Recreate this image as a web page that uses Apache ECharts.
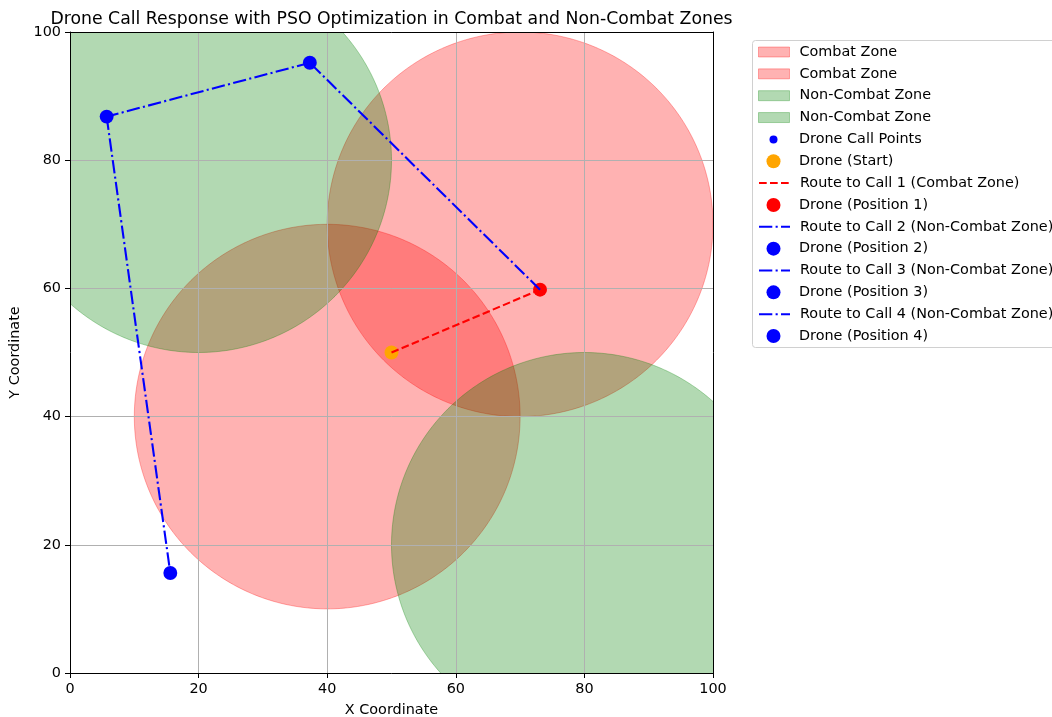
<!DOCTYPE html>
<html>
<head>
<meta charset="utf-8">
<script src="https://cdn.jsdelivr.net/npm/echarts@6/dist/echarts.min.js"></script>
<style>
html,body{margin:0;padding:0;background:#fff;}
#chart{width:1052px;height:717px;}
</style>
</head>
<body>
<div id="chart"></div>
<script>
// ---- data ----
const combatZones = [[70, 70, 30], [40, 40, 30]];          // [cx, cy, radius]
const nonCombatZones = [[20, 80, 30], [80, 20, 30]];       // [cx, cy, radius]
const droneStart = [50, 50];
const callPoints = [[73.1, 59.8], [37.3, 95.2], [5.7, 86.8], [15.6, 15.6]];
const axisMin = 0, axisMax = 100, axisInterval = 20;

// ---- styling ----
const FONT = 'DejaVu Sans';
const FS = 14.4;
const RED_FILL = 'rgba(255,0,0,0.3)';
const GREEN_FILL = 'rgba(0,128,0,0.3)';
const BLUE = '#0000ff';
const DASH = [7.7, 3.3];
const DASHDOT = [13.3, 3.3, 2.1, 3.3];

function zoneSeries(name, zone, fill, z) {
  return {
    type: 'custom', name: name, z: z, clip: true, silent: true,
    data: [zone],
    encode: { x: 0, y: 1 },
    itemStyle: { color: fill },
    renderItem: function (params, api) {
      const cx = api.value(0), cy = api.value(1), r = api.value(2);
      const pts = [];
      for (let a = 0; a < 360; a += 1) {
        const t = a * Math.PI / 180;
        pts.push(api.coord([cx + r * Math.cos(t), cy + r * Math.sin(t)]));
      }
      const cs = params.coordSys;
      return {
        type: 'polygon',
        shape: { points: pts },
        style: { fill: fill, stroke: fill, lineWidth: 1 },
        clipPath: { type: 'rect', shape: { x: cs.x, y: cs.y, width: cs.width, height: cs.height } }
      };
    }
  };
}
function pointSeries(name, pts, color, size, z) {
  return { type: 'scatter', name: name, z: z, data: pts, symbol: 'circle', symbolSize: size,
    itemStyle: { color: color, opacity: 1 }, silent: true };
}
function routeSeries(name, a, b, color, dash, z) {
  return { type: 'line', name: name, z: z, data: [a, b], symbol: 'none', silent: true,
    lineStyle: { color: color, width: 2.1, type: dash }, itemStyle: { color: color } };
}

const series = [
  zoneSeries('Combat Zone', combatZones[0], RED_FILL, 1),
  zoneSeries('Combat Zone', combatZones[1], RED_FILL, 1),
  zoneSeries('Non-Combat Zone', nonCombatZones[0], GREEN_FILL, 1),
  zoneSeries('Non-Combat Zone', nonCombatZones[1], GREEN_FILL, 1),
  pointSeries('Drone Call Points', callPoints, BLUE, 8.3, 4),
  pointSeries('Drone (Start)', [droneStart], '#ffa500', 13.9, 5),
  routeSeries('Route to Call 1 (Combat Zone)', droneStart, callPoints[0], '#ff0000', DASH, 6),
  pointSeries('Drone (Position 1)', [callPoints[0]], '#ff0000', 13.9, 7),
  routeSeries('Route to Call 2 (Non-Combat Zone)', callPoints[0], callPoints[1], BLUE, DASHDOT, 8),
  pointSeries('Drone (Position 2)', [callPoints[1]], BLUE, 13.9, 9),
  routeSeries('Route to Call 3 (Non-Combat Zone)', callPoints[1], callPoints[2], BLUE, DASHDOT, 10),
  pointSeries('Drone (Position 3)', [callPoints[2]], BLUE, 13.9, 11),
  routeSeries('Route to Call 4 (Non-Combat Zone)', callPoints[2], callPoints[3], BLUE, DASHDOT, 12),
  pointSeries('Drone (Position 4)', [callPoints[3]], BLUE, 13.9, 13)
];

// legend: one component per entry (matplotlib-like handles)
const legendEntries = [
  { name: 'Combat Zone', kind: 'patch', fill: RED_FILL },
  { name: 'Combat Zone', kind: 'patch', fill: RED_FILL },
  { name: 'Non-Combat Zone', kind: 'patch', fill: GREEN_FILL },
  { name: 'Non-Combat Zone', kind: 'patch', fill: GREEN_FILL },
  { name: 'Drone Call Points', kind: 'marker', size: 8 },
  { name: 'Drone (Start)', kind: 'marker', size: 14 },
  { name: 'Route to Call 1 (Combat Zone)', kind: 'line' },
  { name: 'Drone (Position 1)', kind: 'marker', size: 14 },
  { name: 'Route to Call 2 (Non-Combat Zone)', kind: 'line' },
  { name: 'Drone (Position 2)', kind: 'marker', size: 14 },
  { name: 'Route to Call 3 (Non-Combat Zone)', kind: 'line' },
  { name: 'Drone (Position 3)', kind: 'marker', size: 14 },
  { name: 'Route to Call 4 (Non-Combat Zone)', kind: 'line' },
  { name: 'Drone (Position 4)', kind: 'marker', size: 14 }
];
const HANDLE_W = 31, HANDLE_X = 758;
const legends = legendEntries.map(function (e, i) {
  const cy = 52 + i * 21.85;
  const ih = e.kind === 'patch' ? 10 : (e.kind === 'marker' ? e.size : 14);
  const item = { name: e.name };
  let left = HANDLE_X;
  if (e.kind === 'patch') { item.icon = 'rect'; item.itemStyle = { color: e.fill, borderColor: e.fill, borderWidth: 1 }; }
  if (e.kind === 'marker') { item.icon = 'circle'; left = HANDLE_X + (HANDLE_W - e.size) / 2; }
  if (e.kind === 'line') { item.itemStyle = { opacity: 0 }; }
  return {
    data: [item], orient: 'vertical', left: left, top: cy - 8.5, padding: 0,
    itemWidth: HANDLE_W, itemHeight: ih, selectedMode: false,
    textStyle: { fontFamily: FONT, fontSize: FS, color: '#000', lineHeight: 17, padding: [0, 0, 0, 5] }
  };
});

const axisCommon = {
  type: 'value', min: axisMin, max: axisMax, interval: axisInterval, z: 2,
  axisLine: { show: true, onZero: false, lineStyle: { color: '#000', width: 1 } },
  axisTick: { show: true, inside: false, length: 5, lineStyle: { color: '#000', width: 1 } },
  axisLabel: { color: '#000', fontFamily: FONT, fontSize: FS, margin: 9 },
  splitLine: { show: true, lineStyle: { color: '#b0b0b0', width: 1 } },
  nameLocation: 'middle',
  nameTextStyle: { color: '#000', fontFamily: FONT, fontSize: FS }
};
const spine = {
  type: 'value', min: axisMin, max: axisMax, z: 20,
  axisLine: { show: true, onZero: false, lineStyle: { color: '#000', width: 1 } },
  axisTick: { show: false }, axisLabel: { show: false }, splitLine: { show: false }
};

const chart = echarts.init(document.getElementById('chart'), null, { renderer: 'canvas' });
chart.setOption({
  animation: false,
  backgroundColor: '#fff',
  title: {
    text: 'Drone Call Response with PSO Optimization in Combat and Non-Combat Zones',
    left: 386.5, textAlign: 'center', top: 6,
    textStyle: { fontFamily: FONT, fontSize: 17.3, fontWeight: 'normal', color: '#000' }
  },
  grid: { left: 70, right: 339, top: 32, bottom: 44, containLabel: false, outerBoundsMode: 'none' },
  xAxis: [
    Object.assign({}, axisCommon, { position: 'bottom', name: 'X Coordinate', nameGap: 30 }),
    Object.assign({}, spine, { position: 'top' })
  ],
  yAxis: [
    Object.assign({}, axisCommon, { position: 'left', name: 'Y Coordinate', nameGap: 43 }),
    Object.assign({}, spine, { position: 'right' })
  ],
  graphic: [{
    type: 'rect', left: 752, top: 40, z: -1,
    shape: { width: 320, height: 307, r: 3 },
    style: { fill: 'rgba(255,255,255,0.8)', stroke: '#d0d0d0', lineWidth: 1 }
  }],
  legend: legends,
  series: series
});
</script>
</body>
</html>
